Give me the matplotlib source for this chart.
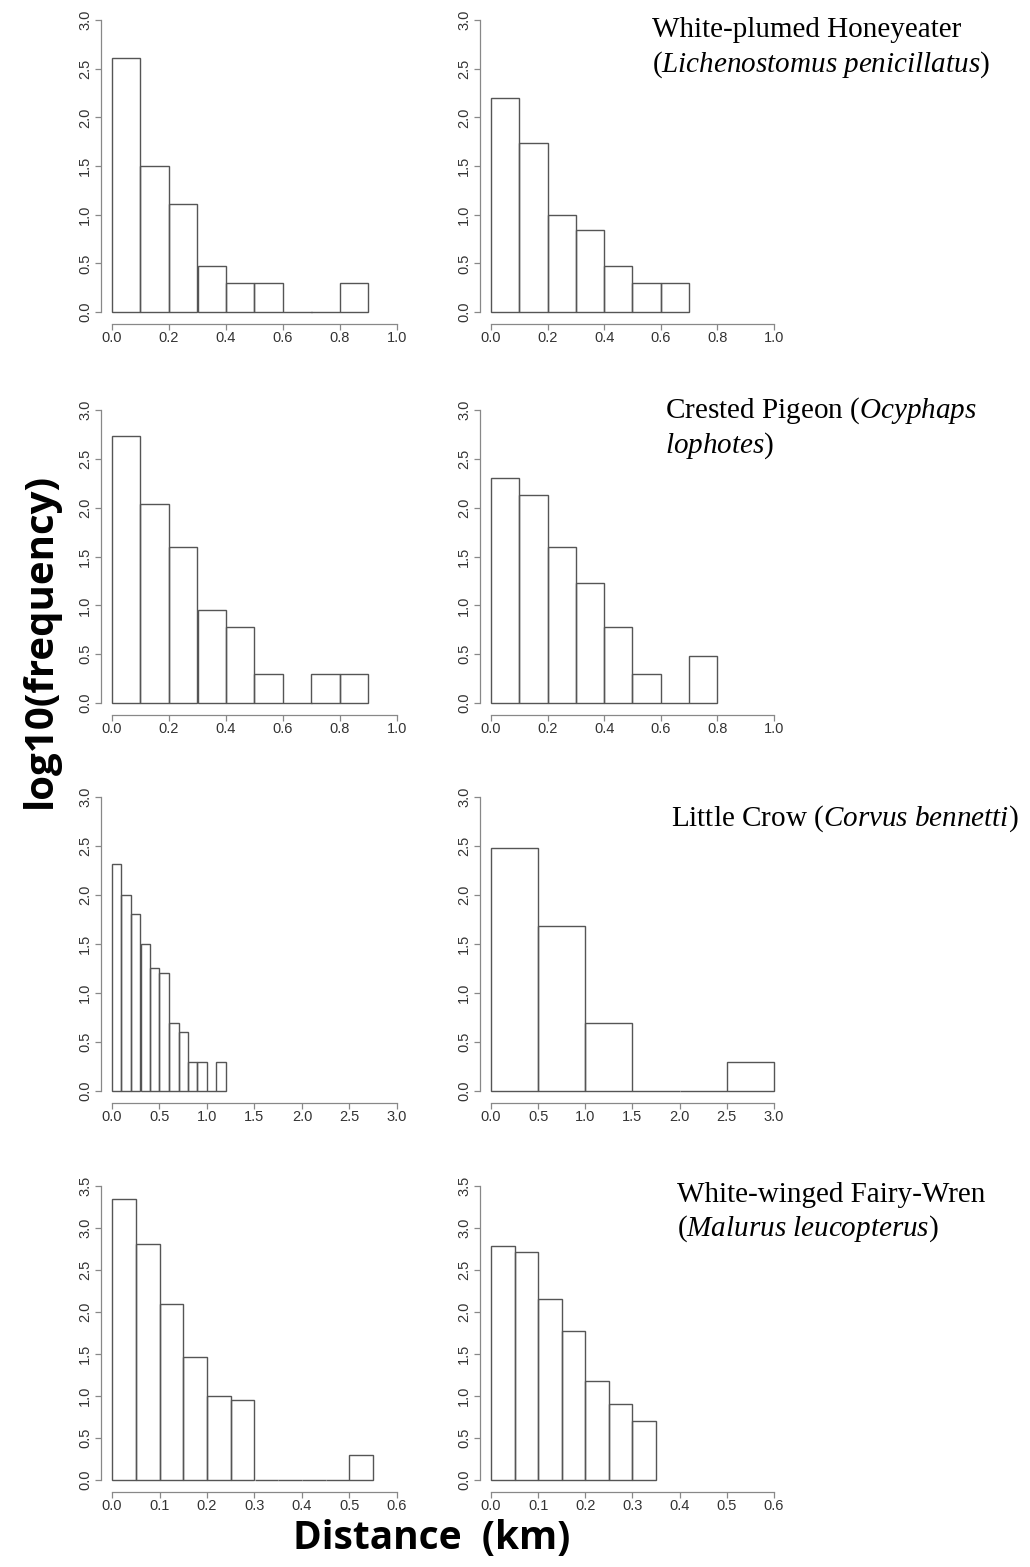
import numpy as np
import matplotlib
matplotlib.use("Agg")
import matplotlib.pyplot as plt

plt.rcParams["font.family"] = ["Liberation Sans", "DejaVu Sans"]
plt.rcParams["mathtext.fontset"] = "custom"
plt.rcParams["mathtext.rm"] = "Liberation Serif"
plt.rcParams["mathtext.it"] = "Liberation Serif:italic"

# log10 of counts per distance bin, two histograms per species
honeyeater_a = [2.61, 1.505, 1.114, 0.477, 0.301, 0.301, 0.0, 0.0, 0.301]
honeyeater_b = [2.20, 1.74, 1.0, 0.845, 0.477, 0.301, 0.301]
pigeon_a = [2.73, 2.04, 1.60, 0.954, 0.778, 0.301, 0.0, 0.301, 0.301]
pigeon_b = [2.30, 2.13, 1.60, 1.23, 0.778, 0.301, 0.0, 0.477]
crow_a = [2.32, 2.0, 1.806, 1.505, 1.255, 1.204, 0.699, 0.602, 0.301, 0.301, 0.0, 0.301]
crow_b = [2.48, 1.68, 0.699, 0.0, 0.0, 0.301]
wren_a = [3.35, 2.81, 2.10, 1.46, 1.0, 0.954, 0.0, 0.0, 0.0, 0.0, 0.301]
wren_b = [2.78, 2.71, 2.15, 1.77, 1.176, 0.903, 0.699]

# bin width of each histogram (left, right) and axis extents per row
bin_width = [(0.1, 0.1), (0.1, 0.1), (0.1, 0.5), (0.05, 0.05)]
x_max = [1.0, 1.0, 3.0, 0.6]
x_step = [0.2, 0.2, 0.5, 0.1]
y_max = [3.0, 3.0, 3.0, 3.5]

species = [
    ["White-plumed Honeyeater", r"($\mathit{Lichenostomus\ penicillatus}$)"],
    [r"Crested Pigeon ($\mathit{Ocyphaps}$", r"$\mathit{lophotes}$)"],
    [r"Little Crow ($\mathit{Corvus\ bennetti}$)"],
    ["White-winged Fairy-Wren", r"($\mathit{Malurus\ leucopterus}$)"],
]

rows = [(honeyeater_a, honeyeater_b), (pigeon_a, pigeon_b),
        (crow_a, crow_b), (wren_a, wren_b)]

W, H = 1030, 1567
fig = plt.figure(figsize=(W / 100, H / 100), dpi=100)

col_x = [(100.6, 408.4), (479.7, 785.3)]
row_y = [(8.3, 323.7), (398.3, 714.7), (785.2, 1102.8), (1174.2, 1491.8)]
title_pos = [(652, [37, 72]), (665, [418, 453]), (671, [826]), (677, [1202, 1236])]

bar_col = "#555555"
axis_col = "#888888"


def draw_hist(ax, heights, width, xmax, xstep, ymax):
    edges = np.arange(len(heights)) * width
    ax.bar(edges, heights, width=width, align="edge", fill=False,
           edgecolor=bar_col, linewidth=1.0)
    ax.set_xlim(-0.04 * xmax, xmax * 1.04)
    ax.set_ylim(-0.04 * ymax, ymax * 1.04)
    xt = np.round(np.arange(0, xmax + xstep / 2, xstep), 2)
    yt = np.arange(0, ymax + 0.25, 0.5)
    ax.set_xticks(xt)
    ax.set_xticklabels([f"{v:.1f}" for v in xt])
    ax.set_yticks(yt)
    ax.set_yticklabels([f"{v:.1f}" for v in yt], rotation=90, va="center")
    for s in ["top", "right"]:
        ax.spines[s].set_visible(False)
    ax.spines["left"].set_bounds(0, ymax)
    ax.spines["bottom"].set_bounds(0, xmax)
    for s in ["left", "bottom"]:
        ax.spines[s].set_color(axis_col)
        ax.spines[s].set_linewidth(0.9)
    ax.tick_params(axis="both", colors=axis_col, labelcolor="#333333",
                   labelsize=10.5, length=4, width=0.9)
    ax.tick_params(axis="x", pad=1)
    ax.tick_params(axis="y", pad=2)


for r, pair in enumerate(rows):
    top, bottom = row_y[r]
    for c, heights in enumerate(pair):
        left, right = col_x[c]
        ax = fig.add_axes([left / W, 1 - bottom / H, (right - left) / W, (bottom - top) / H])
        draw_hist(ax, heights, bin_width[r][c], x_max[r], x_step[r], y_max[r])
    tx, baselines = title_pos[r]
    for line, by in zip(species[r], baselines):
        fig.text(tx / W, 1 - by / H, line, fontsize=21, family="Liberation Serif",
                 ha="left", va="baseline", color="black")

fig.text(40 / W, 1 - 640 / H, "log10(frequency)", rotation=90, fontsize=29,
         family="Open Sans", weight="bold", ha="center", va="center")
fig.text(432 / W, 1 - 1539 / H, "Distance  (km)", fontsize=28,
         family="Open Sans", weight="bold", ha="center", va="center")

fig.savefig("out.png", dpi=100)
